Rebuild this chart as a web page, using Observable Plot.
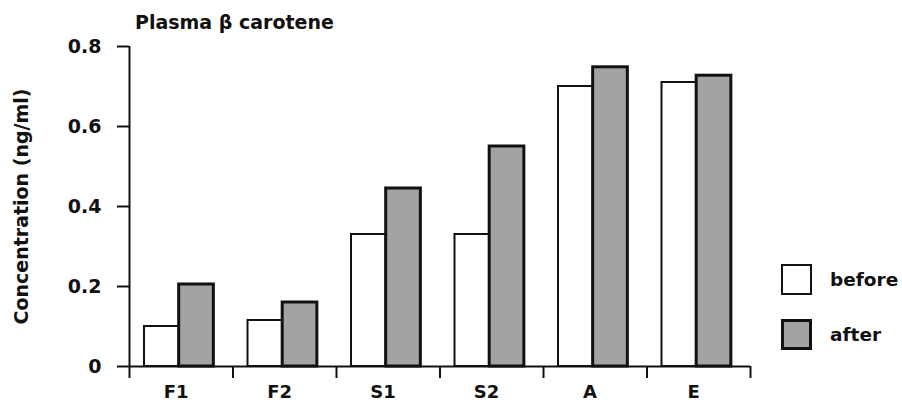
<!DOCTYPE html>
<html>
<head>
<meta charset="utf-8">
<script src="https://cdn.jsdelivr.net/npm/d3@7"></script>
<script src="https://cdn.jsdelivr.net/npm/@observablehq/plot@0.6"></script>
<style>
  html, body { margin: 0; padding: 0; background: #fff; }
  #wrap { position: relative; width: 902px; height: 405px; overflow: hidden; font-family: "DejaVu Sans", sans-serif; font-weight: bold; }
  #title { position: absolute; left: 135px; top: 11px; font-size: 19px; color: #111; white-space: nowrap; }
  .leg { position: absolute; left: 781px; display: flex; align-items: center; font-size: 18.5px; color: #111; white-space: nowrap; }
  .sw { width: 27px; height: 27px; box-sizing: content-box; margin-right: 18px; }
</style>
</head>
<body>
<div id="wrap">
  <div id="chart"></div>
  <div id="title"></div>
  <div id="legend"></div>
</div>
<script>
const categories = ["F1", "F2", "S1", "S2", "A", "E"];
const beforeValues = [0.10, 0.115, 0.33, 0.33, 0.70, 0.71];
const afterValues = [0.205, 0.16, 0.445, 0.55, 0.748, 0.727];
const seriesNames = ["before", "after"];
const yTicks = [0, 0.2, 0.4, 0.6, 0.8];
const yTickLabels = ["0", "0.2", "0.4", "0.6", "0.8"];
const titleText = "Plasma \u03b2 carotene";
const yLabel = "Concentration (ng/ml)";

const colors = {before: "#ffffff", after: "#a3a3a3"};
const strokeW = {before: 2, after: 3};
const barStart = 0.145, barW = 0.335;

const rows = [];
categories.forEach((c, i) => {
  rows.push({cat: c, i, series: "before", value: beforeValues[i]});
  rows.push({cat: c, i, series: "after", value: afterValues[i]});
});

const boundaries = d3.range(categories.length + 1);
const centers = categories.map((c, i) => i + barStart + barW - 0.03);

const font = {fontFamily: "DejaVu Sans", fontWeight: "bold"};

const plot = Plot.plot({
  width: 902,
  height: 405,
  marginLeft: 129,
  marginRight: 152,
  marginTop: 46,
  marginBottom: 39,
  style: {fontFamily: "DejaVu Sans", fontWeight: "bold", fontSize: "19px", color: "#111", background: "#fff"},
  x: {type: "linear", domain: [0, categories.length]},
  y: {domain: [0, 0.8]},
  marks: [
    Plot.rectY(rows.filter(d => d.series === "before"), {
      x1: d => d.i + barStart, x2: d => d.i + barStart + barW, y1: 0, y2: "value",
      fill: colors.before, stroke: "#111", strokeWidth: strokeW.before
    }),
    Plot.rectY(rows.filter(d => d.series === "after"), {
      x1: d => d.i + barStart + barW, x2: d => d.i + barStart + 2 * barW, y1: 0, y2: "value",
      fill: colors.after, stroke: "#111", strokeWidth: strokeW.after
    }),
    Plot.ruleY([0], {stroke: "#111", strokeWidth: 2}),
    Plot.ruleX([0], {y1: 0, y2: 0.8, stroke: "#111", strokeWidth: 2}),
    Plot.axisY({
      ticks: yTicks,
      tickFormat: d => yTickLabels[yTicks.indexOf(d)],
      tickSize: 12, tickPadding: 16, strokeWidth: 2,
      fontSize: 19, ...font,
      label: yLabel, labelAnchor: "center", labelArrow: "none", labelOffset: 115
    }),
    Plot.axisX({
      ticks: boundaries, tickFormat: () => "", tickSize: 12, strokeWidth: 2, label: null
    }),
    Plot.axisX({
      ticks: centers, tickFormat: (d) => categories[centers.indexOf(d)], tickSize: 0, tickPadding: 19,
      fontSize: 18, ...font, label: null
    })
  ]
});
document.getElementById("chart").appendChild(plot);

document.getElementById("title").textContent = titleText;
const legend = document.getElementById("legend");
const legTops = {before: 264, after: 319};
seriesNames.forEach(s => {
  const row = document.createElement("div");
  row.className = "leg";
  row.style.top = legTops[s] + "px";
  const sw = document.createElement("div");
  sw.className = "sw";
  sw.style.background = colors[s];
  sw.style.border = strokeW[s] + "px solid #111";
  if (s === "after") { sw.style.width = "25px"; sw.style.height = "25px"; }
  const t = document.createElement("span");
  t.textContent = s;
  row.appendChild(sw);
  row.appendChild(t);
  legend.appendChild(row);
});
</script>
</body>
</html>
